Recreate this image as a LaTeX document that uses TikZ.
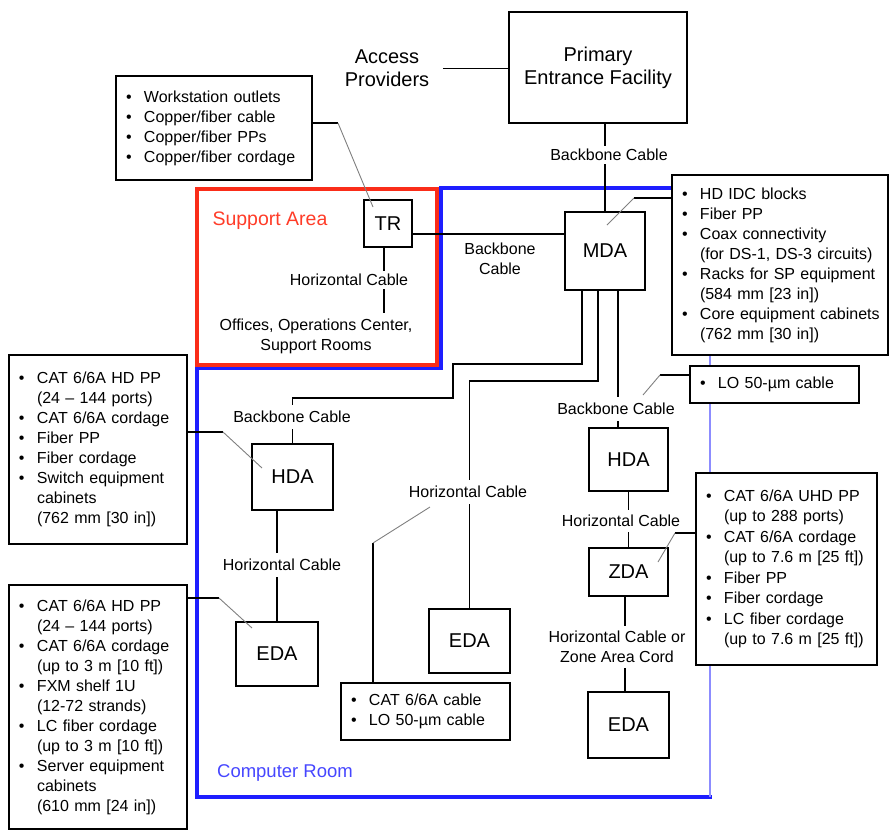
\documentclass[tikz,border=0pt]{standalone}
\usepackage{fontspec}
\setmainfont{Liberation Sans}
\newcommand\fs{\fontsize{16}{20}\selectfont}
\newcommand\fb{\fontsize{20}{23}\selectfont}
\newcommand\bl[1]{\mbox{\makebox[18pt][l]{\textbullet}#1}}
\newcommand\cl[1]{\mbox{\hspace*{18pt}#1}}
\definecolor{blueA}{RGB}{30,30,255}
\definecolor{blueL}{RGB}{140,140,255}
\definecolor{redA}{RGB}{250,45,25}
\definecolor{blueT}{RGB}{70,70,255}
\definecolor{redT}{RGB}{255,60,40}
\tikzset{
  box/.style={draw, line width=1.6pt, fill=white, font=\fb, inner sep=0pt},
  callout/.style={draw, line width=1.4pt, fill=white, font=\fs, align=left, inner xsep=10pt, inner ysep=0pt},
  lbl/.style={font=\fs, fill=white, inner sep=3pt, align=center},
  conn/.style={line width=1.5pt},
  lead/.style={line width=1.2pt},
  leadg/.style={gray, line width=0.9pt},
}
\begin{document}
\begin{tikzpicture}[x=1pt,y=-1pt]
\useasboundingbox (0,0) rectangle (889,831);
% areas
\draw[blueA, line width=3.5pt, line join=miter] (672,188) -- (441,188) -- (441,368) -- (197,368) -- (197,797) -- (711.5,797);
\draw[blueL, line width=1.5pt] (710,355) -- (710,797);
\draw[redA, line width=3.5pt] (197,189) rectangle (437,365);
\node[font=\fontsize{19.5}{23}\selectfont, text=redT] (sa) at (270,221) {Support Area};
\node[font=\fontsize{18.5}{22}\selectfont, text=blueT] (cr) at (285,773) {Computer Room};

% main boxes
\node[font=\fb, align=center] (ap) at (387,68.5) {Access\\Providers};
\node[box, align=center, minimum width=178pt, minimum height=111pt] (pef) at (598,67.5) {Primary\\Entrance Facility};
\node[box, minimum width=80pt, minimum height=78pt] (mda) at (605,251) {MDA};
\node[box, minimum width=48pt, minimum height=47pt] (tr) at (388,223.5) {TR};
\node[box, minimum width=81pt, minimum height=66pt] (hda1) at (292.5,477) {HDA};
\node[box, minimum width=82pt, minimum height=64pt] (eda1) at (277,654) {EDA};
\node[box, minimum width=81pt, minimum height=64pt] (eda2) at (469.5,641) {EDA};
\node[box, minimum width=79pt, minimum height=63pt] (hda2) at (628.5,459.5) {HDA};
\node[box, minimum width=79pt, minimum height=48pt] (zda) at (628.5,572) {ZDA};
\node[box, minimum width=81pt, minimum height=66pt] (eda3) at (628.5,725) {EDA};

% callouts
\node[callout, text width=176pt, minimum height=104pt] (cTR) at (214,128)
 {\bl{Workstation outlets}\\\bl{Copper/fiber cable}\\\bl{Copper/fiber PPs}\\\bl{Copper/fiber cordage}};
\node[callout, text width=196pt, minimum height=180pt] (cMDA) at (780,265)
 {\bl{HD IDC blocks}\\\bl{Fiber PP}\\\bl{Coax connectivity}\\\cl{(for DS-1, DS-3 circuits)}\\\bl{Racks for SP equipment}\\\cl{(584 mm [23 in])}\\\bl{Core equipment cabinets}\\\cl{(762 mm [30 in])}};
\node[callout, text width=158pt, minimum height=189pt] (cHDA) at (98,449.5)
 {\bl{CAT 6/6A HD PP}\\\cl{(24 – 144 ports)}\\\bl{CAT 6/6A cordage}\\\bl{Fiber PP}\\\bl{Fiber cordage}\\\bl{Switch equipment}\\\cl{cabinets}\\\cl{(762 mm [30 in])}};
\node[callout, text width=158pt, minimum height=244pt] (cEDA) at (98,707)
 {\bl{CAT 6/6A HD PP}\\\cl{(24 – 144 ports)}\\\bl{CAT 6/6A cordage}\\\cl{(up to 3 m [10 ft])}\\\bl{FXM shelf 1U}\\\cl{(12-72 strands)}\\\bl{LC fiber cordage}\\\cl{(up to 3 m [10 ft])}\\\bl{Server equipment}\\\cl{cabinets}\\\cl{(610 mm [24 in])}};
\node[callout, text width=161pt, minimum height=192pt, font=\fontsize{16}{20.5}\selectfont] (cZDA) at (786.5,569)
 {\bl{CAT 6/6A UHD PP}\\\cl{(up to 288 ports)}\\\bl{CAT 6/6A cordage}\\\cl{(up to 7.6 m [25 ft])}\\\bl{Fiber PP}\\\bl{Fiber cordage}\\\bl{LC fiber cordage}\\\cl{(up to 7.6 m [25 ft])}};
\node[callout, text width=149pt, minimum height=37pt] (cLO) at (774.5,384.5) {\bl{LO 50-µm cable}};
\node[callout, text width=149pt, minimum height=57pt] (cCAB) at (425.5,711.5) {\bl{CAT 6/6A cable}\\\bl{LO 50-µm cable}};

% offices text
\node[font=\fs, align=center, inner sep=5pt] (off) at (316,336) {Offices, Operations Center,\\Support Rooms};

% connectors
\draw[conn] ([xshift=10pt]ap.east) -- (pef.west |- ap.east);
\draw[conn] (pef.south -| mda.north) -- (mda.north);
\draw[conn] (tr.east |- 0,234) -- (mda.west |- 0,234);
\draw[conn] ([xshift=-4pt]tr.south) -- ([xshift=-4pt]tr.south |- off.north);
\draw[conn] (mda.south -| 582,0) |- (453,364) |- (hda1.north |- 0,398) -- (hda1.north);
\draw[conn] (mda.south -| 598,0) |- (eda2.north |- 0,381) -- (eda2.north);
\draw[conn] (mda.south -| 618,0) -- (hda2.north -| 618,0);
\draw[conn] (hda1.south -| eda1.north) -- (eda1.north);
\draw[conn] (hda2.south) -- (zda.north);
\draw[conn] (zda.south -| 625,0) -- (eda3.north -| 625,0);

% leaders
\coordinate (kTR) at (338,123);   \coordinate (eTR) at (373,207);
\coordinate (kMDA) at (634,198);  \coordinate (eMDA) at (607,225);
\coordinate (kHDA) at (223,432);  \coordinate (eHDA) at (262,468);
\coordinate (kEDA) at (219,598);  \coordinate (eEDA) at (252,628);
\coordinate (kZDA) at (675,533);  \coordinate (eZDA) at (658,562);
\coordinate (kLO) at (660,375);   \coordinate (eLO) at (643,395);
\coordinate (kCAB) at (373,543);  \coordinate (eCAB) at (430,507);
\draw[lead] (cTR.east |- kTR) -- (kTR);   \draw[leadg] (kTR) -- (eTR);
\draw[lead] (cMDA.west |- kMDA) -- (kMDA); \draw[leadg] (kMDA) -- (eMDA);
\draw[lead] (cHDA.east |- kHDA) -- (kHDA); \draw[leadg] (kHDA) -- (eHDA);
\draw[lead] (cEDA.east |- kEDA) -- (kEDA); \draw[leadg] (kEDA) -- (eEDA);
\draw[lead] (cZDA.west |- kZDA) -- (kZDA); \draw[leadg] (kZDA) -- (eZDA);
\draw[lead] (cLO.west |- kLO) -- (kLO);   \draw[leadg] (kLO) -- (eLO);
\draw[lead] (cCAB.north -| kCAB) -- (kCAB); \draw[leadg] (kCAB) -- (eCAB);

% labels
\node[lbl] (l1) at (609,155) {Backbone Cable};
\node[font=\fs, align=center] (l2) at (500,259) {Backbone\\Cable};
\node[lbl] (l3) at (349,280) {Horizontal Cable};
\node[lbl, inner ysep=6pt] (l4) at (292,417) {Backbone Cable};
\node[lbl, inner ysep=6pt] (l5) at (282,565) {Horizontal Cable};
\node[lbl, inner ysep=6pt] (l6) at (468,492) {Horizontal Cable};
\node[lbl, inner ysep=6pt] (l7) at (616,409) {Backbone Cable};
\node[lbl, inner ysep=5pt] (l8) at (621,521) {Horizontal Cable};
\node[lbl, inner ysep=5pt] (l9) at (617,647) {Horizontal Cable or\\Zone Area Cord};
\end{tikzpicture}
\end{document}
